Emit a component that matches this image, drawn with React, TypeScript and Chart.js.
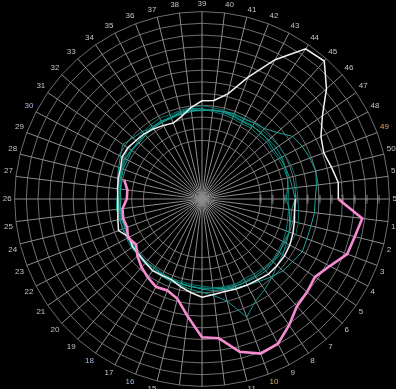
import React, { useEffect, useRef } from 'react';
import { Chart, registerables } from 'chart.js';

Chart.register(...registerables);

// Week labels 1..52
const weeks: string[] = Array.from({ length: 52 }, (_, i) => String(i + 1));

// Weekly values, weeks 1..52 per year
const y2015: number[] = [2253,2270,2296,2313,2338,2356,2398,2441,2484,2578,2398,2330,2296,2279,2261,2253,2244,2236,2236,2227,2219,2219,2227,2219,2210,2219,2227,2219,2236,2244,2236,2227,2236,2244,2253,2244,2261,2270,2270,2261,2270,2261,2253,2261,2253,2261,2270,2270,2261,2253,2236,2219];
const y2016: number[] = [2244,2253,2270,2279,2287,2296,2287,2279,2270,2287,2279,2261,2244,2236,2227,2227,2219,2210,2219,2210,2202,2210,2202,2193,2210,2202,2210,2219,2227,2236,2227,2236,2244,2253,2244,2253,2270,2279,2270,2253,2244,2236,2227,2236,2227,2236,2227,2236,2244,2253,2244,2236];
const y2017: number[] = [2467,2458,2458,2467,2441,2424,2390,2356,2330,2313,2296,2287,2270,2253,2244,2236,2227,2219,2219,2210,2210,2202,2202,2210,2202,2193,2202,2210,2219,2219,2227,2219,2227,2236,2236,2244,2244,2253,2261,2261,2270,2279,2270,2287,2304,2356,2441,2467,2484,2501,2484,2467];
const y2018: number[] = [2330,2347,2356,2338,2321,2313,2304,2296,2287,2279,2270,2270,2261,2253,2253,2244,2244,2236,2236,2227,2236,2227,2219,2227,2219,2210,2219,2227,2236,2253,2261,2253,2261,2270,2279,2270,2279,2287,2296,2287,2279,2270,2279,2287,2279,2287,2296,2304,2313,2321,2313,2321];
const y2019: number[] = [2270,2279,2296,2287,2304,2313,2321,2313,2304,2296,2287,2270,2261,2253,2244,2236,2227,2236,2219,2219,2227,2210,2219,2227,2236,2227,2219,2244,2261,2287,2321,2287,2270,2236,2244,2236,2253,2261,2253,2270,2261,2253,2244,2253,2261,2253,2244,2253,2261,2270,2279,2296];
const y2020: number[] = [2296,2313,2330,2347,2356,2356,2356,2338,2330,2321,2313,2321,2338,2304,2270,2236,2236,2244,2227,2219,2219,2202,2262,2240,2224,2219,2227,2236,2244,2270,2270,2253,2244,2227,2210,2193,2227,2287,2338,2347,2424,2612,2843,3057,3074,2920,2749,2647,2612,2638,2672,2664];
// 2021, weeks 1..28 available
const y2021: number[] = [2878,2843,2826,2732,2672,2698,2723,2809,2895,2912,2843,2698,2681,2510,2377,2335,2347,2313,2279,2236,2184,2214,2184,2193,2184,2142,2142,2184];

// Radial axis
const rMin = 1500;
const rMax = 3100;
const rStep = 100;
const tickFrom = 2000;
const tickTo = 3000;

// Week labels shown in accent colours
const warmWeeks = ['10', '49'];
const coolWeeks = ['16', '18', '30'];

const tealColors = ['#12968c', '#0e7d75', '#1aa89c', '#0b6f68', '#159a90'];
const tealYears = [y2015, y2016, y2017, y2018, y2019];

// Display order: week 52 first (at 3 o'clock), then weeks 1..51 clockwise
const toDisplay = (arr: any[]) => [arr[51], ...arr.slice(0, 51)];
const empty = (): (number | null)[] => weeks.map(() => null);

export default function App() {
  const ref = useRef<HTMLCanvasElement | null>(null);

  useEffect(() => {
    if (!ref.current) return;

    const labels = toDisplay(weeks) as string[];

    // 2021 series, starting from the last week of 2020
    const pinkData = empty();
    pinkData[0] = y2020[51];
    y2021.forEach((v, i) => (pinkData[i + 1] = v));

    // 2020 series, weeks 1..51 (open line)
    const whiteMain: (number | null)[] = [null, ...y2020.slice(0, 51)];
    // link from last week of 2019 to week 1 of 2020
    const whiteLinkA = empty();
    whiteLinkA[0] = y2019[51];
    whiteLinkA[1] = y2020[0];
    // link week 51 -> week 52 of 2020
    const whiteLinkB = empty();
    whiteLinkB[51] = y2020[50];
    whiteLinkB[0] = y2020[51];

    const base = { fill: false, pointRadius: 0, pointHoverRadius: 0, spanGaps: false, tension: 0 };

    const datasets: any[] = [
      { ...base, label: '2021', data: pinkData, borderColor: '#f58bd0', borderWidth: 2.6 },
      { ...base, label: '2020', data: whiteMain, borderColor: '#f2f2f2', borderWidth: 1.5 },
      { ...base, label: '2020a', data: whiteLinkA, borderColor: '#f2f2f2', borderWidth: 1.5 },
      { ...base, label: '2020b', data: whiteLinkB, borderColor: '#f2f2f2', borderWidth: 1.5 },
      ...tealYears.map((arr, i) => ({
        ...base,
        label: String(2015 + i),
        data: toDisplay(arr),
        borderColor: tealColors[i],
        borderWidth: 1,
      })),
    ];

    const chart = new Chart(ref.current, {
      type: 'radar',
      data: { labels, datasets },
      options: {
        responsive: false,
        animation: false,
        layout: { padding: 0 },
        plugins: { legend: { display: false }, tooltip: { enabled: false } },
        elements: { line: { fill: false } },
        scales: {
          r: {
            min: rMin,
            max: rMax,
            startAngle: 90,
            beginAtZero: false,
            afterBuildTicks: (scale: any) => {
              const t: any[] = [{ value: rMin }];
              for (let v = tickFrom; v <= rMax; v += rStep) t.push({ value: v });
              scale.ticks = t;
            },
            ticks: {
              stepSize: rStep,
              showLabelBackdrop: false,
              backdropPadding: 0,
              color: '#a8a8a8',
              font: { size: 4, family: 'Liberation Sans, Arial, sans-serif' },
              callback: (v: any) => (v >= tickFrom && v <= tickTo ? String(v) : ''),
            },
            grid: { color: '#6e6e6e', lineWidth: 1 },
            angleLines: { color: '#8c8c8c', lineWidth: 1 },
            pointLabels: {
              color: (ctx: any) =>
                warmWeeks.includes(ctx.label) ? '#e0b060' : coolWeeks.includes(ctx.label) ? '#a6bce6' : '#c4c4c4',
              padding: 1,
              font: { size: 8, family: 'Liberation Sans Narrow, Liberation Sans, Arial, sans-serif' },
            },
          },
        },
      },
    });
    return () => chart.destroy();
  }, []);

  return (
    <div style={{ position: 'fixed', left: 0, top: 0, width: '100vw', height: '100vh', overflow: 'hidden', background: '#000' }}>
      <div style={{ position: 'absolute', left: 2, top: 0, width: 400, height: 400 }}>
        <canvas ref={ref} width={400} height={400} style={{ display: 'block' }} />
      </div>
    </div>
  );
}
